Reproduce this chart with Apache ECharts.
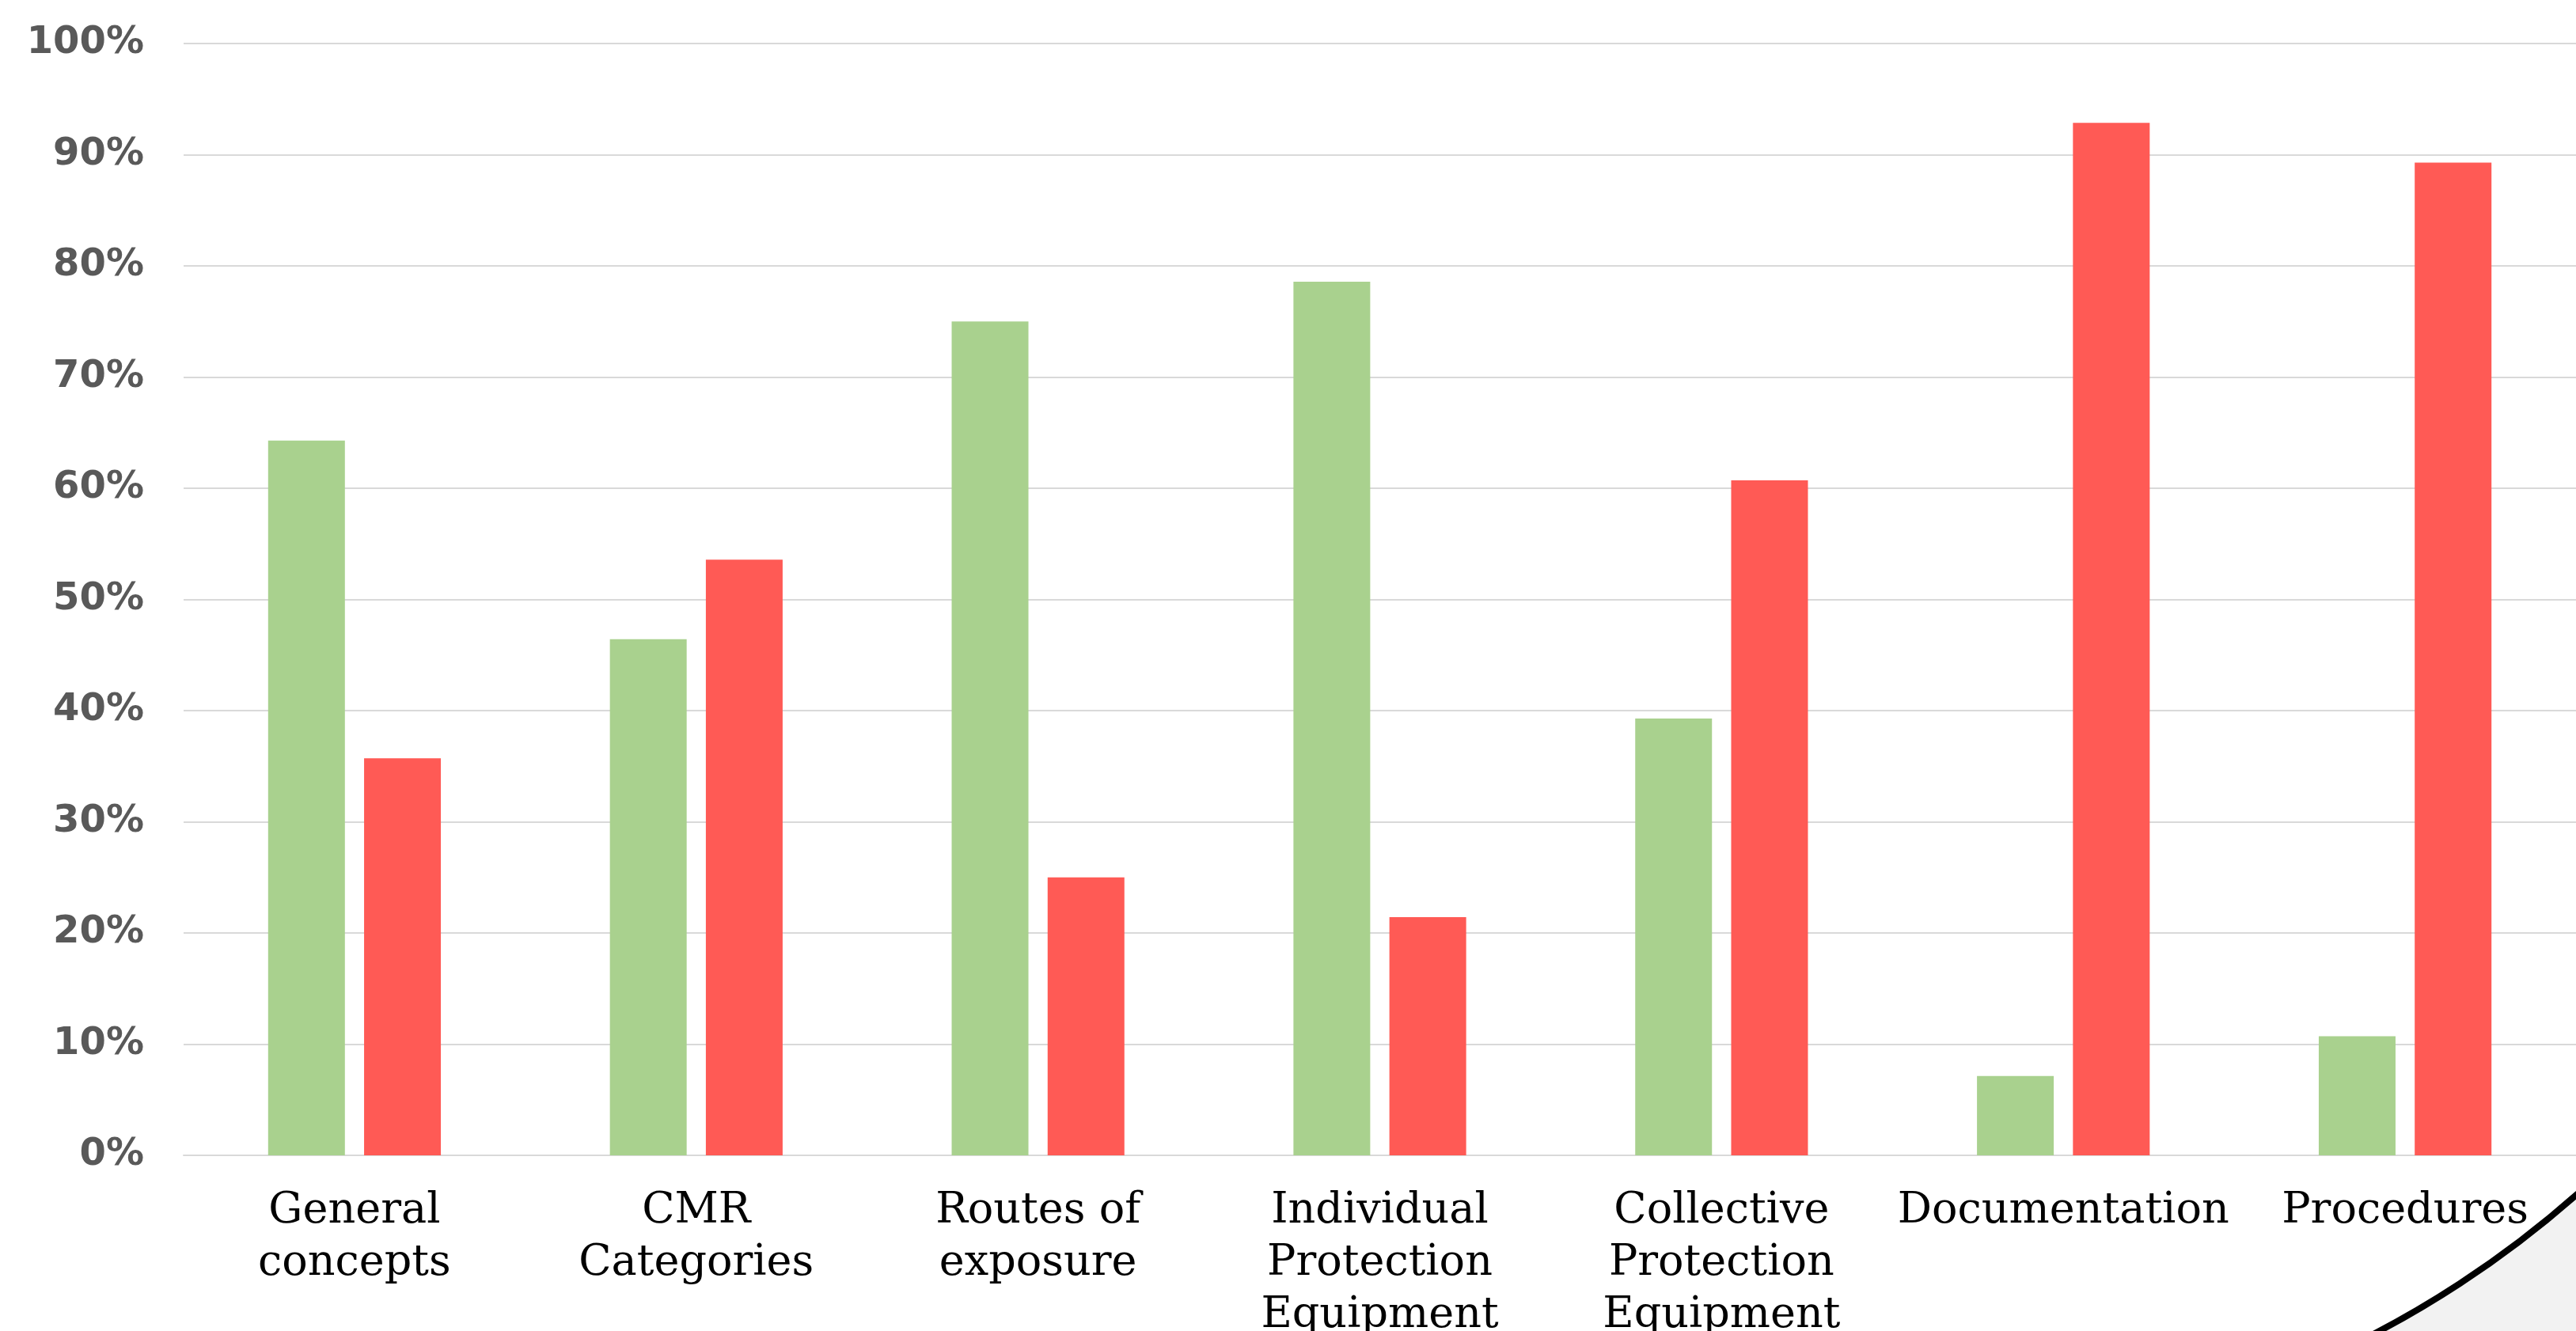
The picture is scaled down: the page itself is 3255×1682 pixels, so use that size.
<!DOCTYPE html>
<html>
<head>
<meta charset="utf-8">
<script src="https://cdn.jsdelivr.net/npm/echarts@6/dist/echarts.min.js"></script>
<style>
html,body{margin:0;padding:0;background:#ffffff;overflow:hidden;}
#chart{width:3255px;height:1682px;}
</style>
</head>
<body>
<div id="chart"></div>
<script>
const categories = [
  "General\nconcepts",
  "CMR\nCategories",
  "Routes of\nexposure",
  "Individual\nProtection\nEquipment",
  "Collective\nProtection\nEquipment",
  "Documentation",
  "Procedures"
];
const greenValues = [64.29, 46.43, 75.0, 78.57, 39.29, 7.14, 10.71];
const redValues = [35.71, 53.57, 25.0, 21.43, 60.71, 92.86, 89.29];
const yTicks = { min: 0, max: 100, interval: 10 };

const chart = echarts.init(document.getElementById('chart'), null, { renderer: 'canvas' });

const arcCx = 2400, arcCy = 539, arcR = 1294;

chart.setOption({
  backgroundColor: '#ffffff',
  animation: false,
  grid: { left: 232, right: 0, top: 55, bottom: 222, containLabel: false, outerBoundsMode: 'none' },
  xAxis: {
    type: 'category',
    data: categories,
    axisLine: { show: true, lineStyle: { color: '#d9d9d9', width: 2 } },
    axisTick: { show: false },
    axisLabel: {
      interval: 0,
      margin: 38,
      fontFamily: 'DejaVu Serif',
      fontSize: 54,
      lineHeight: 66,
      color: '#000000'
    }
  },
  yAxis: {
    type: 'value',
    min: yTicks.min,
    max: yTicks.max,
    interval: yTicks.interval,
    axisLine: { show: false },
    axisTick: { show: false },
    splitLine: { show: true, lineStyle: { color: '#d9d9d9', width: 2 } },
    axisLabel: {
      margin: 50,
      formatter: '{value}%',
      fontFamily: 'DejaVu Sans',
      fontWeight: 'bold',
      fontSize: 48,
      color: '#595959'
    }
  },
  series: [
    {
      type: 'bar',
      data: greenValues,
      barWidth: 97,
      barGap: '25%',
      itemStyle: { color: '#a9d18e' }
    },
    {
      type: 'bar',
      data: redValues,
      barWidth: 97,
      barGap: '25%',
      itemStyle: { color: '#ff5a55' }
    }
  ],
  graphic: [
    {
      type: 'sector',
      z: 100,
      silent: true,
      shape: { cx: arcCx, cy: arcCy, r0: arcR, r: 2600, startAngle: 0, endAngle: Math.PI / 2, clockwise: true },
      style: { fill: '#f2f2f2' }
    },
    {
      type: 'arc',
      z: 101,
      silent: true,
      shape: { cx: arcCx, cy: arcCy, r: arcR, startAngle: 0, endAngle: Math.PI / 2, clockwise: true },
      style: { stroke: '#000000', lineWidth: 8, fill: null }
    }
  ]
});
</script>
</body>
</html>
